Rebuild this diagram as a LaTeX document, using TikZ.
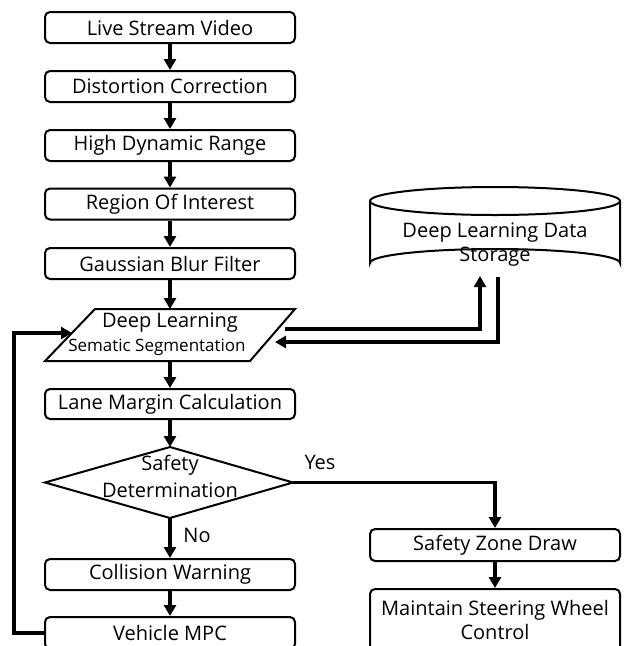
\documentclass[tikz,border=0pt]{standalone}
\usepackage{fontspec}
\setmainfont{Open Sans}
\usetikzlibrary{arrows.meta,shapes.geometric}
\begin{document}
\begin{tikzpicture}[x=1pt,y=-1pt,
  box/.style={draw,line width=2pt,rounded corners=5pt,minimum width=250pt,inner sep=0pt,font=\fontsize{20}{22}\selectfont},
  conn/.style={line width=3.4pt,-{Triangle[length=11pt,width=12pt]}},
  lbl/.style={font=\fontsize{20}{22}\selectfont,inner sep=0pt}]
\useasboundingbox (0,0) rectangle (625,646);
\node[box,minimum height=31pt] (a) at (170,27.5) {Live Stream Video};
\node[box,minimum height=31pt] (b) at (170,86.5) {Distortion Correction};
\node[box,minimum height=31pt] (c) at (170,145.5) {High Dynamic Range};
\node[box,minimum height=31pt] (d) at (170,204) {Region Of Interest};
\node[box,minimum height=31pt] (e) at (170,263.5) {Gaussian Blur Filter};
% parallelogram
\coordinate (ptop) at (170,309);
\coordinate (pbot) at (170,361);
\coordinate (pleft) at (72,333);
\coordinate (pr1) at (285,329);
\coordinate (pr2) at (275,342);
\draw[line width=2pt,line join=miter] (95,309) -- (295,309) -- (250,361) -- (45,361) -- cycle;
\node[lbl] (f1) at (170,323) {Deep Learning};
\node[lbl,font=\fontsize{17}{19}\selectfont] (f2) at (157,347) {Sematic Segmentation};
\node[box,minimum height=30pt] (g) at (170,404) {Lane Margin Calculation};
% diamond
\draw[line width=2pt] (170,447) -- (293,482.5) -- (170,518) -- (45,482.5) -- cycle;
\coordinate (htop) at (170,447);
\coordinate (hbot) at (170,518);
\coordinate (hright) at (293,482.5);
\node[lbl] (h1) at (170,465) {Safety};
\node[lbl] (h2) at (170,490) {Determination};
\node[box,minimum height=31pt] (i) at (170,574.5) {Collision Warning};
\node[box,minimum height=32pt] (j) at (170,633) {Vehicle MPC};
\node[box,minimum height=32pt] (k) at (495,545) {Safety Zone Draw};
\node[box,minimum height=62pt,align=center,font=\fontsize{20}{24}\selectfont] (l) at (495,620) {Maintain Steering Wheel\\Control};
% cylinder
\draw[line width=2pt] (370,201) -- (370,263) arc[start angle=180,end angle=360,x radius=125,y radius=14] -- (620,201);
\draw[line width=2pt] (495,201) ellipse[x radius=125,y radius=14];
\coordinate (cb1) at (480,276);
\coordinate (cb2) at (498,277);
\node[lbl,align=center,font=\fontsize{20}{24}\selectfont] (m) at (495,245) {Deep Learning Data\\Storage};
% connectors
\draw[conn] (a) -- (b);
\draw[conn] (b) -- (c);
\draw[conn] (c) -- (d);
\draw[conn] (d) -- (e);
\draw[conn] (e) -- (ptop);
\draw[conn] (pbot) -- (g);
\draw[conn] (g) -- (htop);
\draw[conn] (hbot) -- (i);
\draw[conn] (i) -- (j);
\draw[conn] (k) -- (l);
\draw[conn] (hright) -| (k);
\draw[conn] (j.west) -- (14,633) |- (pleft);
\draw[conn] (pr1) -| (cb1);
\draw[conn] (cb2) |- (pr2);
\node[lbl] (yes) at (320,462) {Yes};
\node[lbl] (no) at (197,535) {No};
\end{tikzpicture}
\end{document}
